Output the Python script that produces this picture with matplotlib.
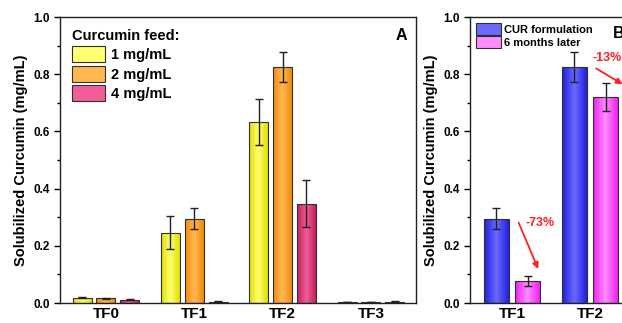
import numpy as np
import matplotlib
matplotlib.use("Agg")
import matplotlib.pyplot as plt
from matplotlib.patches import Patch
from matplotlib.colors import LinearSegmentedColormap

plt.rcParams['font.family'] = ['Liberation Sans', 'DejaVu Sans']
plt.rcParams['font.weight'] = 'bold'

# panel A data
cats_a = ["TF0", "TF1", "TF2", "TF3"]
feed_labels = ["1 mg/mL", "2 mg/mL", "4 mg/mL"]
feed_1 = [0.018, 0.246, 0.633, 0.004]
feed_1_err = [0.002, 0.057, 0.080, 0.001]
feed_2 = [0.016, 0.295, 0.826, 0.003]
feed_2_err = [0.001, 0.038, 0.052, 0.001]
feed_4 = [0.012, 0.005, 0.347, 0.005]
feed_4_err = [0.001, 0.002, 0.083, 0.001]

# panel B data
cats_b = ["TF1", "TF2"]
fresh = [0.295, 0.826]
fresh_err = [0.038, 0.052]
later = [0.078, 0.721]
later_err = [0.017, 0.048]
drop_labels = ["-73%", "-13%"]

# (edge colour, centre colour) for the gradient fill
c_yellow = ("#dede00", "#ffff70")
c_orange = ("#f08a10", "#ffb850")
c_pink = ("#c0205e", "#f25c98")
c_blue = ("#2020e0", "#6a6aff")
c_mag = ("#f020f0", "#ff8cff")


def grad_bars(ax, x, h, w, cols, err):
    bars = ax.bar(x, h, w, color=cols[0], edgecolor="#303030", linewidth=0.8, zorder=2)
    cmap = LinearSegmentedColormap.from_list("g", [cols[0], cols[1], cols[0]])
    grad = np.linspace(0, 1, 64).reshape(1, -1)
    for b in bars:
        bx, by = b.get_x(), b.get_y()
        im = ax.imshow(grad, cmap=cmap, aspect="auto", zorder=2.5,
                       extent=[bx, bx + b.get_width(), by, by + b.get_height()])
        im.set_clip_path(b)
        b.set_facecolor("none")
        b.set_zorder(3)
    ax.errorbar(x, h, yerr=err, fmt="none", ecolor="#202020", elinewidth=1,
                capsize=3, capthick=1, zorder=4)
    return bars


def style(ax, cats):
    ax.set_ylim(0, 1.0)
    ax.set_yticks(np.arange(0, 1.01, 0.2))
    ax.set_yticks(np.arange(0.1, 1.0, 0.2), minor=True)
    ax.set_yticklabels([f"{v:.1f}" for v in np.arange(0, 1.01, 0.2)], fontsize=8.5, fontweight="bold")
    ax.set_xticks(range(len(cats)))
    ax.set_xticklabels(cats, fontsize=11, fontweight="bold")
    ax.tick_params(axis="x", length=0, pad=3)
    ax.tick_params(axis="y", which="major", length=4, width=1, direction="out")
    ax.tick_params(axis="y", which="minor", length=2.5, width=1, direction="out")
    for s in ax.spines.values():
        s.set_linewidth(1)
        s.set_color("#202020")
    ax.set_ylabel("Solubilized Curcumin (mg/mL)", fontsize=10.5, fontweight="bold", labelpad=4)


fig = plt.figure(figsize=(6.22, 3.23), dpi=100)
ax_a = fig.add_axes([60 / 622, 20 / 323, 356 / 622, 286 / 323])
ax_b = fig.add_axes([470 / 622, 20 / 323, 162 / 622, 286 / 323])

xa = np.arange(len(cats_a))
w = 0.215
grad_bars(ax_a, xa - 0.27, feed_1, w, c_yellow, feed_1_err)
grad_bars(ax_a, xa, feed_2, w, c_orange, feed_2_err)
grad_bars(ax_a, xa + 0.27, feed_4, w, c_pink, feed_4_err)
ax_a.set_xlim(-0.52, 3.51)
style(ax_a, cats_a)
ax_a.text(0.975, 0.962, "A", transform=ax_a.transAxes, ha="right", va="top",
          fontsize=11.5, fontweight="bold")
hand_a = [Patch(facecolor=c[1], edgecolor="#303030", linewidth=0.8) for c in (c_yellow, c_orange, c_pink)]
leg = ax_a.legend(hand_a, feed_labels, title="Curcumin feed:", loc="upper left",
                  frameon=False, fontsize=10.5, handlelength=2.3, handleheight=1.3,
                  handletextpad=0.4, labelspacing=0.25, borderaxespad=0.4,
                  title_fontproperties={"weight": "bold", "size": 10.5},
                  bbox_to_anchor=(0.0, 1.0))
leg._legend_box.align = "left"

xb = np.arange(len(cats_b))
wb = 0.32
grad_bars(ax_b, xb - 0.2, fresh, wb, c_blue, fresh_err)
grad_bars(ax_b, xb + 0.2, later, wb, c_mag, later_err)
ax_b.set_xlim(-0.54, 1.54)
style(ax_b, cats_b)
ax_b.text(0.883, 0.97, "B", transform=ax_b.transAxes, ha="left", va="top",
          fontsize=11.5, fontweight="bold")
hand_b = [Patch(facecolor=c[1], edgecolor="#303030", linewidth=0.8) for c in (c_blue, c_mag)]
ax_b.legend(hand_b, ["CUR formulation", "6 months later"], loc="upper left",
            frameon=False, fontsize=8, handlelength=2.2, handleheight=1.2,
            handletextpad=0.3, labelspacing=0.15, borderaxespad=0.15)

# drop annotations
ax_b.annotate("", xy=(0.35, 0.11), xytext=(0.07, 0.29),
              arrowprops=dict(arrowstyle="-|>", color="#ff2020", lw=1.3, mutation_scale=9))
ax_b.text(0.36, 0.28, drop_labels[0], color="#ff2020", fontsize=9, fontweight="bold",
          ha="center", va="center")
ax_b.annotate("", xy=(1.45, 0.76), xytext=(1.05, 0.825),
              arrowprops=dict(arrowstyle="-|>", color="#ff2020", lw=1.3, mutation_scale=9))
ax_b.text(1.03, 0.857, drop_labels[1], color="#ff2020", fontsize=9, fontweight="bold",
          ha="left", va="center")

fig.savefig("out.png", dpi=100)
